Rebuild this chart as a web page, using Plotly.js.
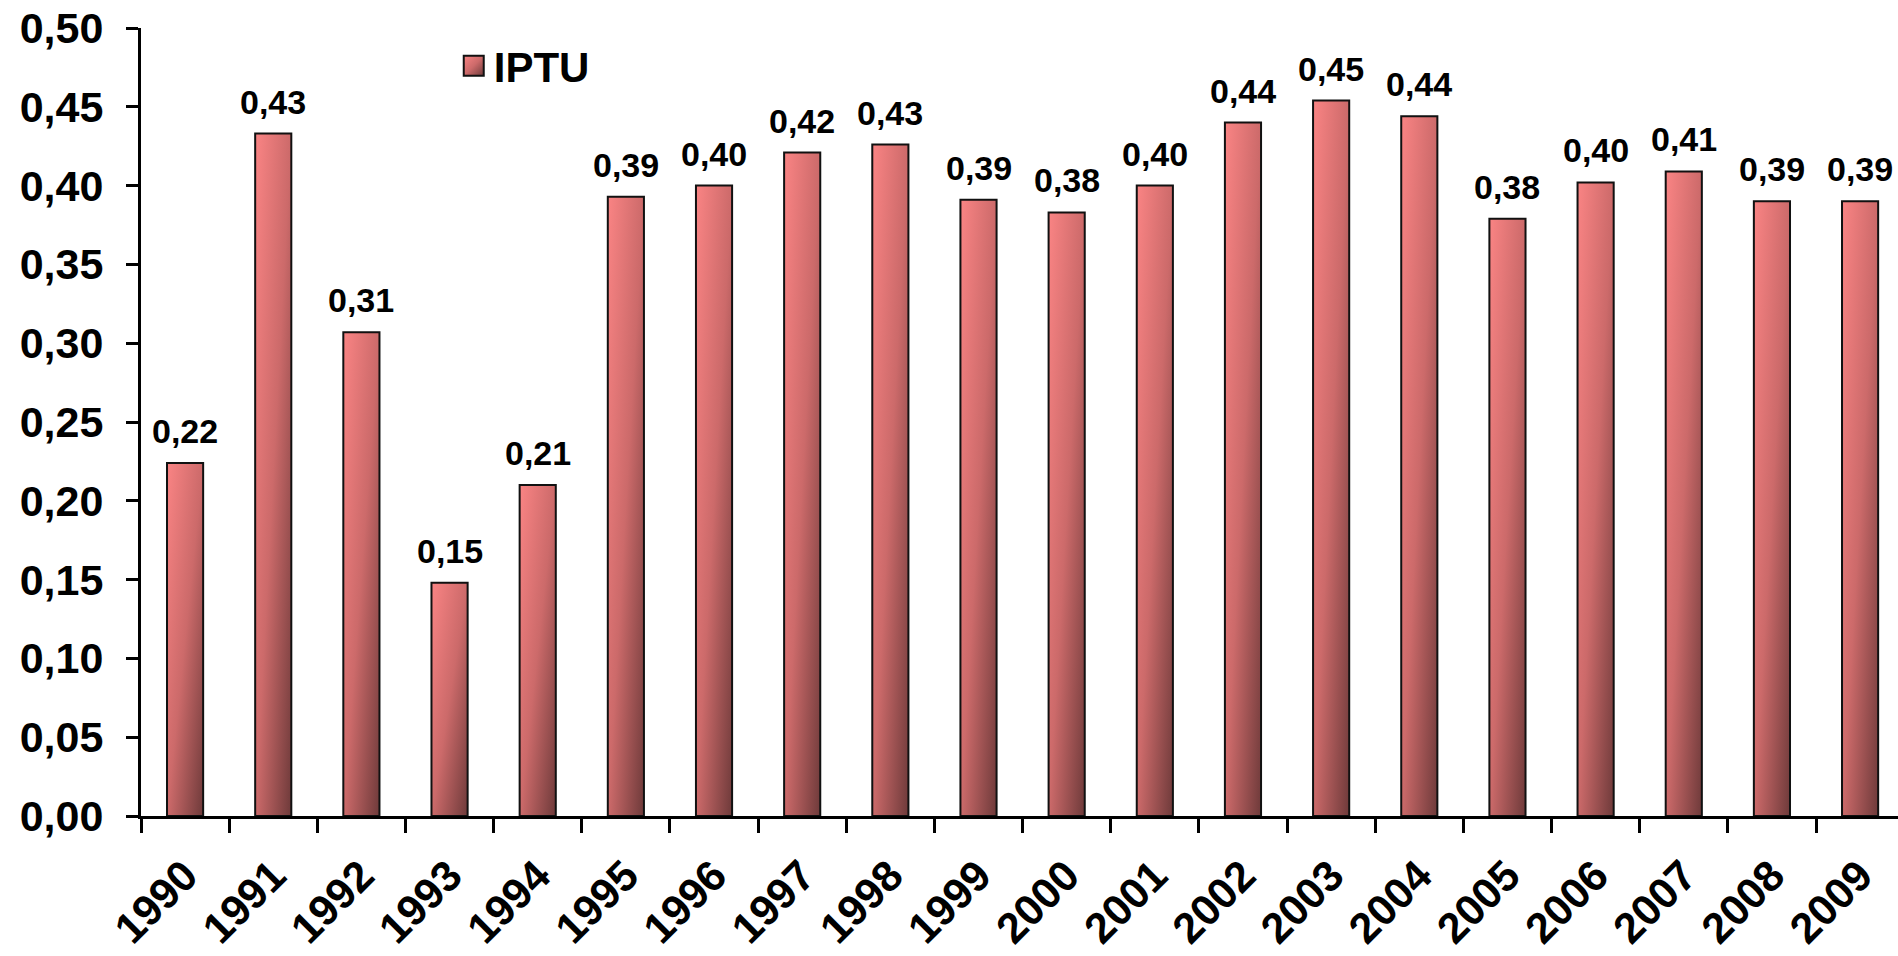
<!DOCTYPE html>
<html>
<head>
<meta charset="utf-8">
<script src="https://cdn.plot.ly/plotly-3.0.1.min.js"></script>
<style>html,body{margin:0;padding:0;background:#fff;}#chart{width:1898px;height:956px;}</style>
</head>
<body>
<div id="chart"></div>
<script>
const years = ['1990','1991','1992','1993','1994','1995','1996','1997','1998','1999',
               '2000','2001','2002','2003','2004','2005','2006','2007','2008','2009'];
const iptu = [0.224,0.433,0.307,0.148,0.210,0.393,0.400,0.421,0.426,0.391,
              0.383,0.400,0.440,0.454,0.444,0.379,0.402,0.409,0.390,0.390];
const seriesName = 'IPTU';

const FONT = 'Liberation Sans, Arial, sans-serif';

const trace = {
  type: 'bar',
  x: years,
  y: iptu,
  name: seriesName,
  marker: {color: '#C86868', line: {color: '#111', width: 2}},
  showlegend: true,
  hoverinfo: 'skip'
};

const annotations = years.map((yr, i) => ({
  x: i, y: iptu[i], xref: 'x', yref: 'y',
  text: iptu[i].toFixed(2).replace('.', ','),
  showarrow: false, yanchor: 'bottom', yshift: 11,
  font: {family: FONT, size: 34, color: '#000', weight: 'bold'}
}));

const layout = {
  width: 1898, height: 956,
  margin: {l: 141, r: 0, t: 28, b: 140, pad: 0},
  paper_bgcolor: '#fff', plot_bgcolor: '#fff',
  separators: ',.',
  bargap: 0.59,
  showlegend: true,
  legend: {x: 0.178, xanchor: 'left', y: 0.995, yanchor: 'top',
           bgcolor: 'rgba(0,0,0,0)',
           font: {family: FONT, size: 42, color: '#000', weight: 'bold'}},
  xaxis: {
    type: 'category', range: [-0.5, 19.43],
    showline: true, linecolor: '#000', linewidth: 3,
    ticks: 'outside', ticklen: 14, tickwidth: 3, tickcolor: '#000',
    tickson: 'boundaries', tickangle: -45, showgrid: false,
    ticklabelstandoff: 14,
    tickfont: {family: FONT, size: 43, color: '#000', weight: 'bold'}
  },
  yaxis: {
    range: [0, 0.5], dtick: 0.05, tick0: 0, tickformat: '.2f',
    showline: true, linecolor: '#000', linewidth: 3,
    ticks: 'outside', ticklen: 12, tickwidth: 3, tickcolor: '#000',
    showgrid: false, zeroline: false, ticklabelstandoff: 14,
    tickfont: {family: FONT, size: 43, color: '#000', weight: 'bold'}
  },
  annotations: annotations
};

Plotly.newPlot('chart', [trace], layout, {staticPlot: true, displayModeBar: false}).then(function (gd) {
  const ns = 'http://www.w3.org/2000/svg';
  const svg = gd.querySelector('svg.main-svg');
  let defs = svg.querySelector('defs');
  if (!defs) { defs = document.createElementNS(ns, 'defs'); svg.insertBefore(defs, svg.firstChild); }
  const g = document.createElementNS(ns, 'linearGradient');
  g.setAttribute('id', 'barGrad');
  g.setAttribute('x1', '0'); g.setAttribute('y1', '0');
  g.setAttribute('x2', '1'); g.setAttribute('y2', '1');
  [['0', '#FA8484'], ['0.5', '#CC6A6A'], ['1', '#6E3A3A']].forEach(function (s) {
    const st = document.createElementNS(ns, 'stop');
    st.setAttribute('offset', s[0]); st.setAttribute('stop-color', s[1]);
    g.appendChild(st);
  });
  defs.appendChild(g);
  gd.querySelectorAll('.bars .point path').forEach(function (p) { p.style.fill = 'url(#barGrad)'; });
  gd.querySelectorAll('.legend .legendpoints path').forEach(function (p) {
    p.style.fill = 'url(#barGrad)';
    p.setAttribute('d', 'M10,10H-10V-10H10Z');
  });
});
</script>
</body>
</html>
